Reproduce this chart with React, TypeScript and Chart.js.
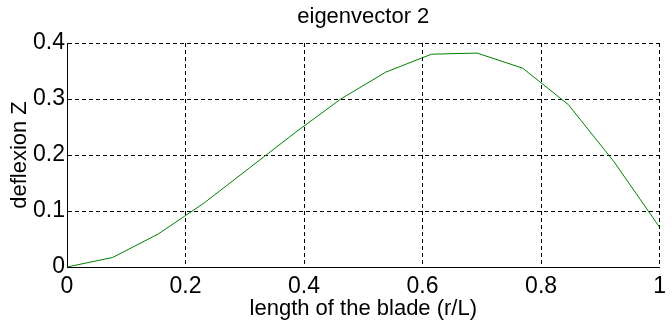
import React, { useEffect, useRef } from "react";
import { Chart, registerables } from "chart.js";

Chart.register(...registerables);

const titleText = "eigenvector 2";
const xAxisTitle = "length of the blade (r/L)";
const yAxisTitle = "deflexion Z";

const bladePosition = [0, 0.077, 0.154, 0.231, 0.308, 0.385, 0.462, 0.538, 0.615, 0.692, 0.769, 0.846, 0.923, 1];
const deflexion = [0, 0.017, 0.059, 0.114, 0.177, 0.24, 0.3, 0.348, 0.38, 0.382, 0.355, 0.29, 0.188, 0.071];

const xTickValues = [0, 0.2, 0.4, 0.6, 0.8, 1];
const xTickLabels = ["0", "0.2", "0.4", "0.6", "0.8", "1"];
const yTickValues = [0, 0.1, 0.2, 0.3, 0.4];
const yTickLabels = ["0", "0.1", "0.2", "0.3", "0.4"];

const FONT = "'Liberation Sans', Arial, sans-serif";
const TICK_FONT = "'Liberation Sans Narrow', 'Arial Narrow', 'Liberation Sans', sans-serif";

export default function App() {
  const ref = useRef<HTMLCanvasElement | null>(null);

  useEffect(() => {
    document.body.style.margin = "0";
    const canvas = ref.current;
    if (!canvas) return;
    const points = bladePosition.map((x, i) => ({ x, y: deflexion[i] }));
    const chart = new Chart(canvas, {
      type: "line",
      data: {
        datasets: [
          {
            data: points,
            borderColor: "#008000",
            borderWidth: 1,
            pointRadius: 0,
            tension: 0,
            fill: false,
          },
        ],
      },
      options: {
        responsive: false,
        animation: false,
        devicePixelRatio: 1,
        layout: { padding: { left: 0, right: 10, top: 0, bottom: 0 } },
        plugins: {
          legend: { display: false },
          tooltip: { enabled: false },
          title: {
            display: true,
            fullSize: false,
            text: titleText,
            color: "#000",
            font: { family: FONT, size: 22, weight: "normal" },
            padding: { top: 4, bottom: 12.6 },
          },
        },
        scales: {
          x: {
            type: "linear",
            min: 0,
            max: 1,
            afterBuildTicks: (scale: any) => {
              scale.ticks = xTickValues.map((v) => ({ value: v }));
            },
            afterFit: (scale: any) => {
              scale.height = 64;
            },
            ticks: {
              color: "#000",
              padding: 6,
              maxRotation: 0,
              autoSkip: false,
              font: { family: TICK_FONT, size: 23 },
              callback: (_v: any, i: number) => xTickLabels[i],
            },
            grid: { color: "#000", lineWidth: 1, drawTicks: false },
            border: { display: true, color: "#000", width: 1, dash: [4, 3] },
            title: {
              display: true,
              text: xAxisTitle,
              color: "#000",
              font: { family: FONT, size: 22 },
              padding: { top: 0, bottom: 8.7 },
            },
          },
          y: {
            type: "linear",
            min: 0,
            max: 0.4,
            afterBuildTicks: (scale: any) => {
              scale.ticks = yTickValues.map((v) => ({ value: v }));
            },
            afterFit: (scale: any) => {
              scale.width = 67;
            },
            ticks: {
              color: "#000",
              padding: 2,
              autoSkip: false,
              font: { family: TICK_FONT, size: 23 },
              callback: (_v: any, i: number) => yTickLabels[i],
            },
            grid: { color: "#000", lineWidth: 1, drawTicks: false },
            border: { display: true, color: "#000", width: 1, dash: [4, 3] },
            title: {
              display: true,
              text: yAxisTitle,
              color: "#000",
              font: { family: FONT, size: 22 },
              padding: { top: 7, bottom: 0 },
            },
          },
        },
      },
    });
    return () => chart.destroy();
  }, []);

  return (
    <div style={{ width: 672, height: 331, background: "#fff" }}>
      <canvas ref={ref} width={672} height={331} style={{ display: "block" }} />
    </div>
  );
}
